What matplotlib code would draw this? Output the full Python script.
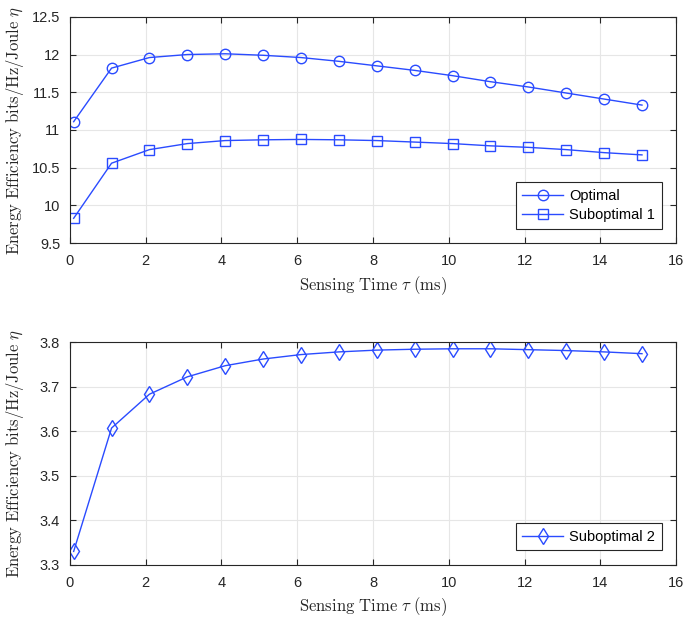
import numpy as np
import matplotlib
matplotlib.use("Agg")
from matplotlib import pyplot as plt

plt.rcParams['font.family'] = ['Liberation Sans', 'DejaVu Sans']
plt.rcParams['mathtext.fontset'] = 'cm'

# sensing time (ms)
tau = [0.1, 1.1, 2.1, 3.1, 4.1, 5.1, 6.1, 7.1, 8.1, 9.1, 10.1, 11.1, 12.1, 13.1, 14.1, 15.1]

optimal = [11.11, 11.82, 11.96, 12.00, 12.01, 11.99, 11.96, 11.91, 11.85, 11.79,
           11.72, 11.64, 11.57, 11.49, 11.41, 11.33]
subopt1 = [9.83, 10.56, 10.74, 10.82, 10.86, 10.87, 10.875, 10.87, 10.86, 10.84,
           10.82, 10.79, 10.77, 10.74, 10.70, 10.67]
subopt2 = [3.330, 3.607, 3.683, 3.722, 3.747, 3.762, 3.772, 3.778, 3.782, 3.784,
           3.785, 3.785, 3.783, 3.781, 3.778, 3.774]

col = '#2a4bff'
ylab = r'$\mathrm{Energy\ Efficiency\ bits/Hz/Joule}\ \eta$'
xlab = r'$\mathrm{Sensing\ Time}\ \tau\ \mathrm{(ms)}$'

fig = plt.figure(figsize=(6.85, 6.22), dpi=100)
ax1 = fig.add_axes([0.102, 0.609, 0.885, 0.364])
ax2 = fig.add_axes([0.102, 0.092, 0.885, 0.358])

ax1.plot(tau, optimal, '-o', color=col, lw=1, ms=7.5, mfc='none', mew=1, label='Optimal')
ax1.plot(tau, subopt1, '-s', color=col, lw=1, ms=6.5, mfc='none', mew=1, label='Suboptimal 1')
ax1.set_ylim(9.5, 12.5)
ax1.set_yticks([9.5, 10, 10.5, 11, 11.5, 12, 12.5])
ax1.set_yticklabels(['9.5', '10', '10.5', '11', '11.5', '12', '12.5'])

ax2.plot(tau, subopt2, '-d', color=col, lw=1, ms=8, mfc='none', mew=1, label='Suboptimal 2')
ax2.set_ylim(3.3, 3.8)
ax2.set_yticks([3.3, 3.4, 3.5, 3.6, 3.7, 3.8])

for ax in (ax1, ax2):
    ax.set_xlim(0, 16)
    ax.set_xticks(range(0, 17, 2))
    ax.grid(True, color='#e6e6e6', lw=0.8)
    ax.set_axisbelow(True)
    ax.tick_params(direction='in', top=True, right=True, labelsize=10.5, colors='#262626',
                   length=4, width=0.8)
    ax.tick_params(axis='x', pad=8)
    ax.tick_params(axis='y', pad=7)
    for s in ax.spines.values():
        s.set_color('#262626')
        s.set_linewidth(0.8)
    ax.set_xlabel(xlab, fontsize=12, color='#262626', labelpad=4)
    ax.set_ylabel(ylab, fontsize=12, color='#262626')
    ax.yaxis.set_label_coords(-0.072, 0.5)
    leg = ax.legend(loc='lower right', fontsize=10.5, fancybox=False, framealpha=1,
                    edgecolor='#262626', borderaxespad=1.0, handlelength=2.8,
                    handletextpad=0.4, borderpad=0.45, labelspacing=0.35)
    leg.get_frame().set_linewidth(0.8)

fig.savefig('out.png', dpi=100)
